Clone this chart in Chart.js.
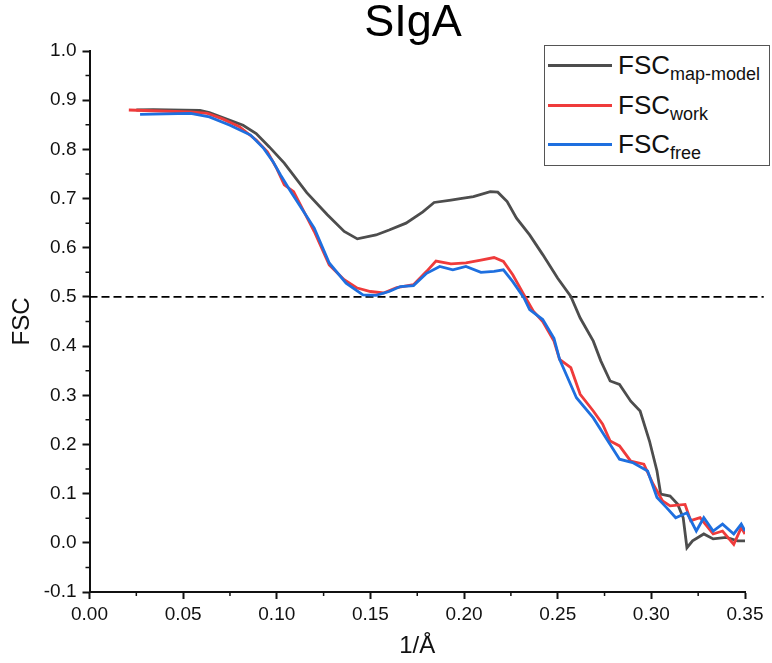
<!DOCTYPE html>
<html>
<head>
<meta charset="utf-8">
<script src="https://cdn.jsdelivr.net/npm/chart.js@4"></script>
<style>
  body { margin: 0; background: #fff; }
  .wrap { position: relative; width: 772px; height: 663px; font-family: 'Liberation Sans', Arial, sans-serif; }
  .title { position: absolute; left: 313px; width: 200px; top: -2px; text-align: center; font-size: 45px; line-height: 45px; color: #000; }
  .legend { position: absolute; left: 544px; top: 45px; width: 226px; height: 121px; border: 1px solid #555; box-sizing: border-box; background: #fff; }
  .legend .row { position: absolute; left: 3px; height: 30px; }
  .legend .swatch { position: absolute; left: 0; top: 14px; width: 64px; height: 3px; }
  .legend .label { position: absolute; left: 70px; top: 0; font-size: 26px; line-height: 30px; color: #111; white-space: nowrap; }
  .legend sub { font-size: 18px; vertical-align: -6px; line-height: 0; }
</style>
</head>
<body>
<div class="wrap">
  <canvas id="fscChart" width="772" height="663"></canvas>
  <div class="title">SIgA</div>
  <div class="legend">
    <div class="row" style="top:4px"><span class="swatch" style="background:#4d4d4d"></span><span class="label">FSC<sub>map-model</sub></span></div>
    <div class="row" style="top:44px"><span class="swatch" style="background:#ef3b3b"></span><span class="label">FSC<sub>work</sub></span></div>
    <div class="row" style="top:83px"><span class="swatch" style="background:#1e6fdf"></span><span class="label">FSC<sub>free</sub></span></div>
  </div>
</div>
<script>
// FSC map-model (gray)
const mapModelX = [0.025, 0.034, 0.059, 0.064, 0.075, 0.082, 0.089, 0.096, 0.104, 0.116, 0.127, 0.136, 0.143, 0.153, 0.160, 0.169, 0.178, 0.184, 0.193, 0.198, 0.205, 0.214, 0.218, 0.223, 0.228, 0.235, 0.242, 0.250, 0.257, 0.262, 0.269, 0.273, 0.278, 0.283, 0.289, 0.294, 0.299, 0.303, 0.305, 0.310, 0.314, 0.317, 0.319, 0.322, 0.328, 0.333, 0.340, 0.346, 0.350];
const mapModelY = [0.880, 0.881, 0.879, 0.875, 0.859, 0.849, 0.832, 0.805, 0.772, 0.712, 0.667, 0.633, 0.618, 0.626, 0.636, 0.650, 0.673, 0.692, 0.697, 0.700, 0.704, 0.714, 0.713, 0.694, 0.660, 0.626, 0.586, 0.538, 0.501, 0.457, 0.410, 0.370, 0.329, 0.322, 0.288, 0.268, 0.207, 0.146, 0.099, 0.095, 0.079, 0.051, -0.010, 0.004, 0.018, 0.008, 0.011, 0.004, 0.004];

// FSC work (red)
const workX = [0.021, 0.054, 0.063, 0.071, 0.080, 0.089, 0.095, 0.100, 0.104, 0.109, 0.120, 0.128, 0.136, 0.143, 0.150, 0.157, 0.164, 0.173, 0.180, 0.185, 0.193, 0.201, 0.209, 0.216, 0.221, 0.226, 0.232, 0.237, 0.242, 0.248, 0.251, 0.257, 0.262, 0.269, 0.274, 0.278, 0.283, 0.289, 0.296, 0.301, 0.306, 0.310, 0.318, 0.321, 0.326, 0.333, 0.338, 0.344, 0.348, 0.350];
const workY = [0.880, 0.876, 0.873, 0.862, 0.846, 0.819, 0.795, 0.761, 0.728, 0.714, 0.633, 0.565, 0.535, 0.518, 0.511, 0.508, 0.519, 0.525, 0.552, 0.573, 0.567, 0.569, 0.575, 0.580, 0.572, 0.545, 0.504, 0.471, 0.450, 0.410, 0.373, 0.356, 0.302, 0.268, 0.241, 0.207, 0.197, 0.166, 0.160, 0.119, 0.085, 0.075, 0.078, 0.045, 0.051, 0.018, 0.024, -0.003, 0.031, 0.018];

// FSC free (blue)
const freeX = [0.027, 0.054, 0.064, 0.075, 0.086, 0.093, 0.098, 0.102, 0.107, 0.120, 0.128, 0.137, 0.146, 0.153, 0.160, 0.166, 0.173, 0.180, 0.187, 0.194, 0.201, 0.209, 0.216, 0.221, 0.226, 0.232, 0.235, 0.242, 0.248, 0.251, 0.260, 0.269, 0.278, 0.283, 0.290, 0.298, 0.303, 0.308, 0.313, 0.319, 0.324, 0.328, 0.333, 0.338, 0.344, 0.348, 0.350];
const freeY = [0.871, 0.873, 0.866, 0.849, 0.829, 0.802, 0.775, 0.748, 0.717, 0.640, 0.569, 0.528, 0.504, 0.503, 0.511, 0.521, 0.523, 0.548, 0.562, 0.555, 0.562, 0.550, 0.552, 0.555, 0.531, 0.498, 0.474, 0.454, 0.416, 0.373, 0.295, 0.254, 0.200, 0.170, 0.163, 0.146, 0.092, 0.072, 0.051, 0.061, 0.024, 0.051, 0.024, 0.038, 0.018, 0.038, 0.024];

// 0.5 threshold
const thresholdX = [0, 0.36];
const thresholdY = [0.5, 0.5];

const toPoints = (xs, ys) => xs.map((x, i) => ({ x: x, y: ys[i] }));

Chart.defaults.font.family = "'Liberation Sans', Arial, sans-serif";
Chart.defaults.color = '#111';

// minor ticks between the labelled ones
const minorTicks = {
    id: 'minorTicks',
    afterDraw(chart) {
        const ctx = chart.ctx;
        const xs = chart.scales.x, ys = chart.scales.y;
        ctx.save();
        ctx.strokeStyle = '#111';
        ctx.lineWidth = 1.5;
        ctx.beginPath();
        for (let v = 0.025; v < 0.35; v += 0.05) {
            const px = xs.getPixelForValue(v);
            ctx.moveTo(px, xs.top);
            ctx.lineTo(px, xs.top + 4);
        }
        for (let v = -0.05; v < 1.0; v += 0.1) {
            const py = ys.getPixelForValue(v);
            ctx.moveTo(ys.right, py);
            ctx.lineTo(ys.right - 4, py);
        }
        ctx.stroke();
        ctx.restore();
    }
};

const ctx = document.getElementById('fscChart').getContext('2d');
new Chart(ctx, {
    type: 'line',
    data: {
        datasets: [
            { label: 'threshold', data: toPoints(thresholdX, thresholdY), borderColor: '#000', borderWidth: 1.8, borderDash: [8, 4], clip: false, order: 5 },
            { label: 'FSC map-model', data: toPoints(mapModelX, mapModelY), borderColor: '#4d4d4d', order: 3 },
            { label: 'FSC work', data: toPoints(workX, workY), borderColor: '#ef3b3b', order: 2 },
            { label: 'FSC free', data: toPoints(freeX, freeY), borderColor: '#1e6fdf', order: 1 }
        ]
    },
    options: {
        responsive: false,
        animation: false,
        devicePixelRatio: 1,
        layout: { padding: { top: 51, right: 27, left: 0, bottom: 0 } },
        elements: { point: { radius: 0 }, line: { borderWidth: 2.8, tension: 0 } },
        plugins: { legend: { display: false }, tooltip: { enabled: false }, title: { display: false } },
        scales: {
            x: {
                type: 'linear', min: 0, max: 0.35,
                ticks: { stepSize: 0.05, callback: v => v.toFixed(2), font: { size: 19 }, padding: 4, maxRotation: 0, autoSkip: false },
                grid: { drawOnChartArea: false, tickLength: 7, tickWidth: 2, tickColor: '#111' },
                border: { color: '#111', width: 2 },
                title: { display: true, text: '1/Å', font: { size: 24 }, padding: { top: 6, bottom: 2 } },
                afterFit: s => { s.height = 71; }
            },
            y: {
                type: 'linear', min: -0.1, max: 1.0,
                ticks: { stepSize: 0.1, callback: v => (Math.abs(v) < 1e-9 ? 0 : v).toFixed(1), font: { size: 19 }, padding: 6 },
                grid: { drawOnChartArea: false, tickLength: 7, tickWidth: 2, tickColor: '#111' },
                border: { color: '#111', width: 2 },
                title: { display: true, text: 'FSC', font: { size: 24 }, padding: { top: 8, bottom: 4 } },
                afterFit: s => { s.width = 89.5; }
            }
        }
    },
    plugins: [minorTicks]
});
</script>
</body>
</html>
